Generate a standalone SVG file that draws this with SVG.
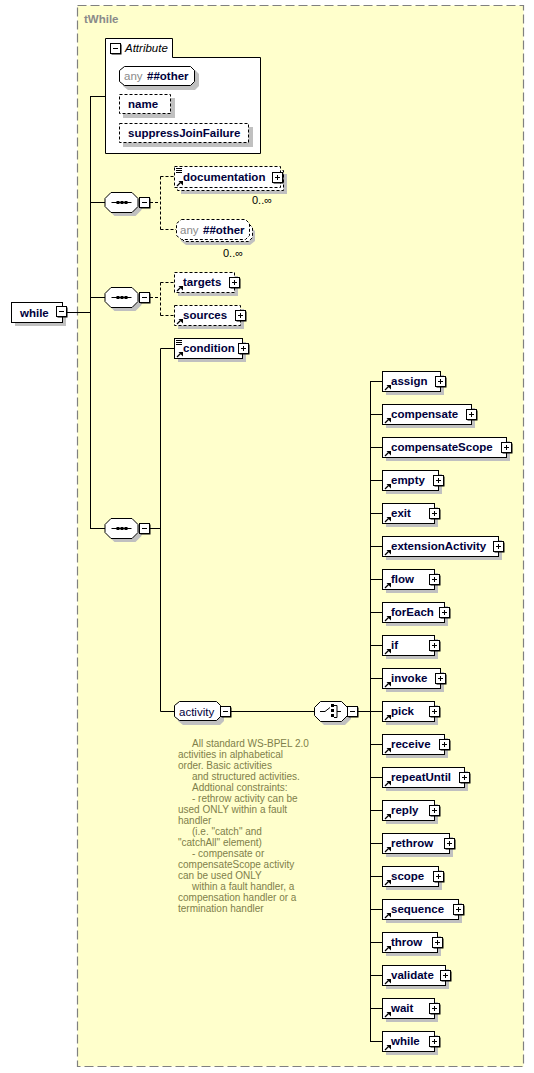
<svg xmlns="http://www.w3.org/2000/svg" xmlns:xlink="http://www.w3.org/1999/xlink" width="534" height="1073" viewBox="0 0 534 1073">
<style>
.bx{fill:#fff;stroke:#000;stroke-width:1}
.bxd{fill:#fff;stroke:#000;stroke-width:1;stroke-dasharray:3,2}
.sh{fill:#c0c0c0}
.ln{fill:none;stroke:#000;stroke-width:1}
.lnd{fill:none;stroke:#000;stroke-width:1;stroke-dasharray:3,2}
.t{font-family:"Liberation Sans",Arial,sans-serif;font-size:11.5px;font-weight:bold;fill:#00003c}
.tn{font-family:"Liberation Sans",Arial,sans-serif;font-size:11.5px;fill:#00003c}
.ga{font-family:"Liberation Sans",Arial,sans-serif;font-size:11.5px;fill:#8a8a8a}
.oc{font-family:"Liberation Sans",Arial,sans-serif;font-size:11px;fill:#000}
.ann{font-family:"Liberation Sans",Arial,sans-serif;font-size:10px;fill:#80804a}
.tt{font-family:"Liberation Sans",Arial,sans-serif;font-size:11.5px;font-weight:bold;fill:#8a8a8a}
.it{font-family:"Liberation Sans",Arial,sans-serif;font-size:11.5px;font-style:italic;fill:#000}
</style>
<defs>
<g id="plus"><rect x="1.5" y="1.5" width="10" height="10" fill="#000"/><rect x="0.5" y="0.5" width="10" height="10" fill="#fff" stroke="#000"/><path d="M3 5.5h5M5.5 3v5" stroke="#000"/></g>
<g id="minus"><rect x="1.5" y="1.5" width="10" height="10" fill="#000"/><rect x="0.5" y="0.5" width="10" height="10" fill="#fff" stroke="#000"/><path d="M3 5.5h5" stroke="#000"/></g>
<g id="ref"><path d="M1 6 L4.5 2.5" stroke="#000" stroke-width="1.2"/><path d="M2.5 1h4.5v4.5z" fill="#000"/></g>
<g id="doc"><path d="M0 0.5h6M0 2.5h6M0 4.5h6" stroke="#000"/></g>
<g id="seq"><path class="sh" d="M10 4h21l6 6v8l-6 6h-21l-6-6v-8z"/><path class="bx" d="M6.5 0.5h21l6 6v8l-6 6h-21l-6-6v-8z"/><path d="M7 10.5h20" stroke="#000"/><rect x="12" y="9" width="3" height="3" fill="#000"/><rect x="16" y="9" width="3" height="3" fill="#000"/><rect x="20" y="9" width="3" height="3" fill="#000"/></g>
</defs>

<rect x="77.5" y="5.5" width="446" height="1061" fill="#ffffcc" stroke="#808080" stroke-width="1.2" stroke-dasharray="9,4"/>
<text class="tt" x="84" y="23">tWhile</text>

<g id="connectors">
<path class="ln" d="M67 312.5H90.5M90.5 96.5V528.5M90 96.5H105M90 202.5H105M90 297.5H105M90 528.5H105"/>
<path class="lnd" d="M150 202.5H160.5M160.5 176.5V229.5M160.5 176.5H174M160.5 229.5H176"/>
<path class="lnd" d="M150 297.5H160.5M160.5 282.5V315.5M160.5 282.5H174M160.5 315.5H174"/>
<path class="ln" d="M150 528.5H160.5M160.5 348.5V711.5M160.5 348.5H174M160.5 711.5H174"/>
<path class="ln" d="M231 711.5H314M357 711.5H370.5M370.5 381.5V1041.5"/>
<path class="ln" d="M370 381.5H382M370 414.5H382M370 447.5H382M370 480.5H382M370 513.5H382M370 546.5H382M370 579.5H382M370 612.5H382M370 645.5H382M370 678.5H382M370 711.5H382M370 744.5H382M370 777.5H382M370 810.5H382M370 843.5H382M370 876.5H382M370 909.5H382M370 942.5H382M370 975.5H382M370 1008.5H382M370 1041.5H382"/>
</g>

<g id="root-while">
<rect class="sh" x="15" y="306" width="51" height="20"/>
<rect class="bx" x="11.5" y="302.5" width="51" height="20"/>
<text class="t" x="20" y="316.5">while</text>
<use xlink:href="#minus" x="56" y="306"/>
</g>

<g id="attributes">
<path class="bx" d="M105.5 153.5V38.5H172.5V57.5H260.5V153.5Z"/>
<use xlink:href="#minus" x="110" y="43"/>
<text class="it" x="125" y="52">Attribute</text>
<g id="attr-any">
<path class="sh" d="M128 70h67l4 4v12l-4 4h-67l-5-4v-12z"/>
<path class="bx" d="M124.5 66.5h66l4 4v11l-4 4h-66l-5-4v-11z"/>
<text class="ga" x="124" y="80">any</text><text class="t" x="147" y="80">##other</text>
</g>
<g id="attr-name">
<rect class="sh" x="123" y="98" width="52" height="20"/>
<rect class="bxd" x="119.5" y="94.5" width="51" height="19"/>
<text class="t" x="128" y="108">name</text>
</g>
<g id="attr-suppressJoinFailure">
<rect class="sh" x="123" y="127" width="130" height="20"/>
<rect class="bxd" x="119.5" y="123.5" width="129" height="19"/>
<text class="t" x="128" y="137">suppressJoinFailure</text>
</g>
</g>

<g id="seq1"><use xlink:href="#seq" x="104.5" y="192"/><use xlink:href="#minus" x="139" y="197"/></g>
<g id="seq2"><use xlink:href="#seq" x="104.5" y="287"/><use xlink:href="#minus" x="139" y="292"/></g>
<g id="seq3"><use xlink:href="#seq" x="104.5" y="518"/><use xlink:href="#minus" x="139" y="523"/></g>

<g id="documentation">
<rect class="sh" x="181" y="174" width="106" height="20"/>
<rect class="bxd" x="177.5" y="170.5" width="106" height="20"/>
<rect class="bxd" x="174.5" y="166.5" width="106" height="21"/>
<use xlink:href="#doc" x="176" y="168"/>
<use xlink:href="#ref" x="176" y="180"/>
<text class="t" x="183" y="180.5">documentation</text>
<use xlink:href="#plus" x="272" y="172"/>
<text class="oc" x="252" y="204">0..∞</text>
</g>

<g id="any-other">
<path class="sh" d="M186 227h64l5 4v10l-5 4h-64l-5-4v-10z"/>
<path class="bxd" d="M184.5 223.5h64l4 4v10l-4 4h-64l-4-4v-10z"/>
<path class="bxd" d="M181.5 219.5h64l4 4v12l-4 4h-64l-5-4v-12z"/>
<text class="ga" x="180" y="234">any</text><text class="t" x="203" y="234">##other</text>
<text class="oc" x="223" y="257">0..∞</text>
</g>

<g id="targets">
<rect class="sh" x="178" y="276" width="60" height="20"/>
<rect class="bxd" x="174.5" y="272.5" width="60" height="20"/>
<use xlink:href="#ref" x="176" y="285"/>
<text class="t" x="183" y="286">targets</text>
<use xlink:href="#plus" x="229" y="277"/>
</g>

<g id="sources">
<rect class="sh" x="178" y="309" width="66" height="20"/>
<rect class="bxd" x="174.5" y="305.5" width="66" height="20"/>
<use xlink:href="#ref" x="176" y="318"/>
<text class="t" x="183" y="319">sources</text>
<use xlink:href="#plus" x="235" y="310"/>
</g>

<g id="condition">
<rect class="sh" x="178" y="342" width="68" height="20"/>
<rect class="bx" x="174.5" y="338.5" width="68" height="20"/>
<use xlink:href="#doc" x="176" y="340"/>
<use xlink:href="#ref" x="176" y="351"/>
<text class="t" x="183" y="352">condition</text>
<use xlink:href="#plus" x="238" y="343"/>
</g>

<g id="activity">
<path class="sh" d="M183 705h37l4 4v12l-4 4h-37l-5-4v-12z"/>
<path class="bx" d="M179.5 701.5h37l4 4v11l-4 4h-37l-5-4v-11z"/>
<text class="tn" x="179" y="715.5">activity</text>
<use xlink:href="#minus" x="220" y="706"/>
</g>

<g id="choice">
<path class="sh" d="M324 705h21l6 6v8l-6 6h-21l-6-6v-8z"/>
<path class="bx" d="M320.5 701.5h21l6 6v8l-6 6h-21l-6-6v-8z"/>
<path d="M320 711.5h5l5-4M334 705.5h3v12h-3M337 711.5h4" stroke="#000" fill="none"/>
<rect x="331" y="704" width="3" height="3" fill="#000"/><rect x="331" y="709" width="3" height="3" fill="#000"/><rect x="331" y="714" width="3" height="3" fill="#000"/>
<use xlink:href="#minus" x="347" y="706"/>
</g>

<g id="el-assign" transform="translate(382,371)"><rect class="sh" x="4" y="4" width="58" height="20"/><rect class="bx" x="0.5" y="0.5" width="58" height="20"/><use xlink:href="#ref" x="2" y="13"/><text class="t" x="9" y="14">assign</text><use xlink:href="#plus" x="53" y="5"/></g>
<g id="el-compensate" transform="translate(382,404)"><rect class="sh" x="4" y="4" width="89" height="20"/><rect class="bx" x="0.5" y="0.5" width="89" height="20"/><use xlink:href="#ref" x="2" y="13"/><text class="t" x="9" y="14">compensate</text><use xlink:href="#plus" x="84" y="5"/></g>
<g id="el-compensateScope" transform="translate(382,437)"><rect class="sh" x="4" y="4" width="124" height="20"/><rect class="bx" x="0.5" y="0.5" width="124" height="20"/><use xlink:href="#ref" x="2" y="13"/><text class="t" x="9" y="14">compensateScope</text><use xlink:href="#plus" x="119" y="5"/></g>
<g id="el-empty" transform="translate(382,470)"><rect class="sh" x="4" y="4" width="56" height="20"/><rect class="bx" x="0.5" y="0.5" width="56" height="20"/><use xlink:href="#ref" x="2" y="13"/><text class="t" x="9" y="14">empty</text><use xlink:href="#plus" x="51" y="5"/></g>
<g id="el-exit" transform="translate(382,503)"><rect class="sh" x="4" y="4" width="52" height="20"/><rect class="bx" x="0.5" y="0.5" width="52" height="20"/><use xlink:href="#ref" x="2" y="13"/><text class="t" x="9" y="14">exit</text><use xlink:href="#plus" x="47" y="5"/></g>
<g id="el-extensionActivity" transform="translate(382,536)"><rect class="sh" x="4" y="4" width="116" height="20"/><rect class="bx" x="0.5" y="0.5" width="116" height="20"/><use xlink:href="#ref" x="2" y="13"/><text class="t" x="9" y="14">extensionActivity</text><use xlink:href="#plus" x="111" y="5"/></g>
<g id="el-flow" transform="translate(382,569)"><rect class="sh" x="4" y="4" width="52" height="20"/><rect class="bx" x="0.5" y="0.5" width="52" height="20"/><use xlink:href="#ref" x="2" y="13"/><text class="t" x="9" y="14">flow</text><use xlink:href="#plus" x="47" y="5"/></g>
<g id="el-forEach" transform="translate(382,602)"><rect class="sh" x="4" y="4" width="62" height="20"/><rect class="bx" x="0.5" y="0.5" width="62" height="20"/><use xlink:href="#ref" x="2" y="13"/><text class="t" x="9" y="14">forEach</text><use xlink:href="#plus" x="57" y="5"/></g>
<g id="el-if" transform="translate(382,635)"><rect class="sh" x="4" y="4" width="52" height="20"/><rect class="bx" x="0.5" y="0.5" width="52" height="20"/><use xlink:href="#ref" x="2" y="13"/><text class="t" x="9" y="14">if</text><use xlink:href="#plus" x="47" y="5"/></g>
<g id="el-invoke" transform="translate(382,668)"><rect class="sh" x="4" y="4" width="58" height="20"/><rect class="bx" x="0.5" y="0.5" width="58" height="20"/><use xlink:href="#ref" x="2" y="13"/><text class="t" x="9" y="14">invoke</text><use xlink:href="#plus" x="53" y="5"/></g>
<g id="el-pick" transform="translate(382,701)"><rect class="sh" x="4" y="4" width="52" height="20"/><rect class="bx" x="0.5" y="0.5" width="52" height="20"/><use xlink:href="#ref" x="2" y="13"/><text class="t" x="9" y="14">pick</text><use xlink:href="#plus" x="47" y="5"/></g>
<g id="el-receive" transform="translate(382,734)"><rect class="sh" x="4" y="4" width="62" height="20"/><rect class="bx" x="0.5" y="0.5" width="62" height="20"/><use xlink:href="#ref" x="2" y="13"/><text class="t" x="9" y="14">receive</text><use xlink:href="#plus" x="57" y="5"/></g>
<g id="el-repeatUntil" transform="translate(382,767)"><rect class="sh" x="4" y="4" width="82" height="20"/><rect class="bx" x="0.5" y="0.5" width="82" height="20"/><use xlink:href="#ref" x="2" y="13"/><text class="t" x="9" y="14">repeatUntil</text><use xlink:href="#plus" x="77" y="5"/></g>
<g id="el-reply" transform="translate(382,800)"><rect class="sh" x="4" y="4" width="52" height="20"/><rect class="bx" x="0.5" y="0.5" width="52" height="20"/><use xlink:href="#ref" x="2" y="13"/><text class="t" x="9" y="14">reply</text><use xlink:href="#plus" x="47" y="5"/></g>
<g id="el-rethrow" transform="translate(382,833)"><rect class="sh" x="4" y="4" width="67" height="20"/><rect class="bx" x="0.5" y="0.5" width="67" height="20"/><use xlink:href="#ref" x="2" y="13"/><text class="t" x="9" y="14">rethrow</text><use xlink:href="#plus" x="62" y="5"/></g>
<g id="el-scope" transform="translate(382,866)"><rect class="sh" x="4" y="4" width="56" height="20"/><rect class="bx" x="0.5" y="0.5" width="56" height="20"/><use xlink:href="#ref" x="2" y="13"/><text class="t" x="9" y="14">scope</text><use xlink:href="#plus" x="51" y="5"/></g>
<g id="el-sequence" transform="translate(382,899)"><rect class="sh" x="4" y="4" width="76" height="20"/><rect class="bx" x="0.5" y="0.5" width="76" height="20"/><use xlink:href="#ref" x="2" y="13"/><text class="t" x="9" y="14">sequence</text><use xlink:href="#plus" x="71" y="5"/></g>
<g id="el-throw" transform="translate(382,932)"><rect class="sh" x="4" y="4" width="55" height="20"/><rect class="bx" x="0.5" y="0.5" width="55" height="20"/><use xlink:href="#ref" x="2" y="13"/><text class="t" x="9" y="14">throw</text><use xlink:href="#plus" x="50" y="5"/></g>
<g id="el-validate" transform="translate(382,965)"><rect class="sh" x="4" y="4" width="63" height="20"/><rect class="bx" x="0.5" y="0.5" width="63" height="20"/><use xlink:href="#ref" x="2" y="13"/><text class="t" x="9" y="14">validate</text><use xlink:href="#plus" x="58" y="5"/></g>
<g id="el-wait" transform="translate(382,998)"><rect class="sh" x="4" y="4" width="52" height="20"/><rect class="bx" x="0.5" y="0.5" width="52" height="20"/><use xlink:href="#ref" x="2" y="13"/><text class="t" x="9" y="14">wait</text><use xlink:href="#plus" x="47" y="5"/></g>
<g id="el-while" transform="translate(382,1031)"><rect class="sh" x="4" y="4" width="52" height="20"/><rect class="bx" x="0.5" y="0.5" width="52" height="20"/><use xlink:href="#ref" x="2" y="13"/><text class="t" x="9" y="14">while</text><use xlink:href="#plus" x="47" y="5"/></g>

<g id="activity-annotation" class="ann">
<text x="192" y="747">All standard WS-BPEL 2.0</text>
<text x="178" y="758">activities in alphabetical</text>
<text x="178" y="769">order. Basic activities</text>
<text x="192" y="780">and structured activities.</text>
<text x="192" y="791">Addtional constraints:</text>
<text x="192" y="802">- rethrow activity can be</text>
<text x="178" y="813">used ONLY within a fault</text>
<text x="178" y="824">handler</text>
<text x="192" y="835">(i.e. "catch" and</text>
<text x="178" y="846">"catchAll" element)</text>
<text x="192" y="857">- compensate or</text>
<text x="178" y="868">compensateScope activity</text>
<text x="178" y="879">can be used ONLY</text>
<text x="192" y="890">within a fault handler, a</text>
<text x="178" y="901">compensation handler or a</text>
<text x="178" y="912">termination handler</text>
</g>
</svg>
